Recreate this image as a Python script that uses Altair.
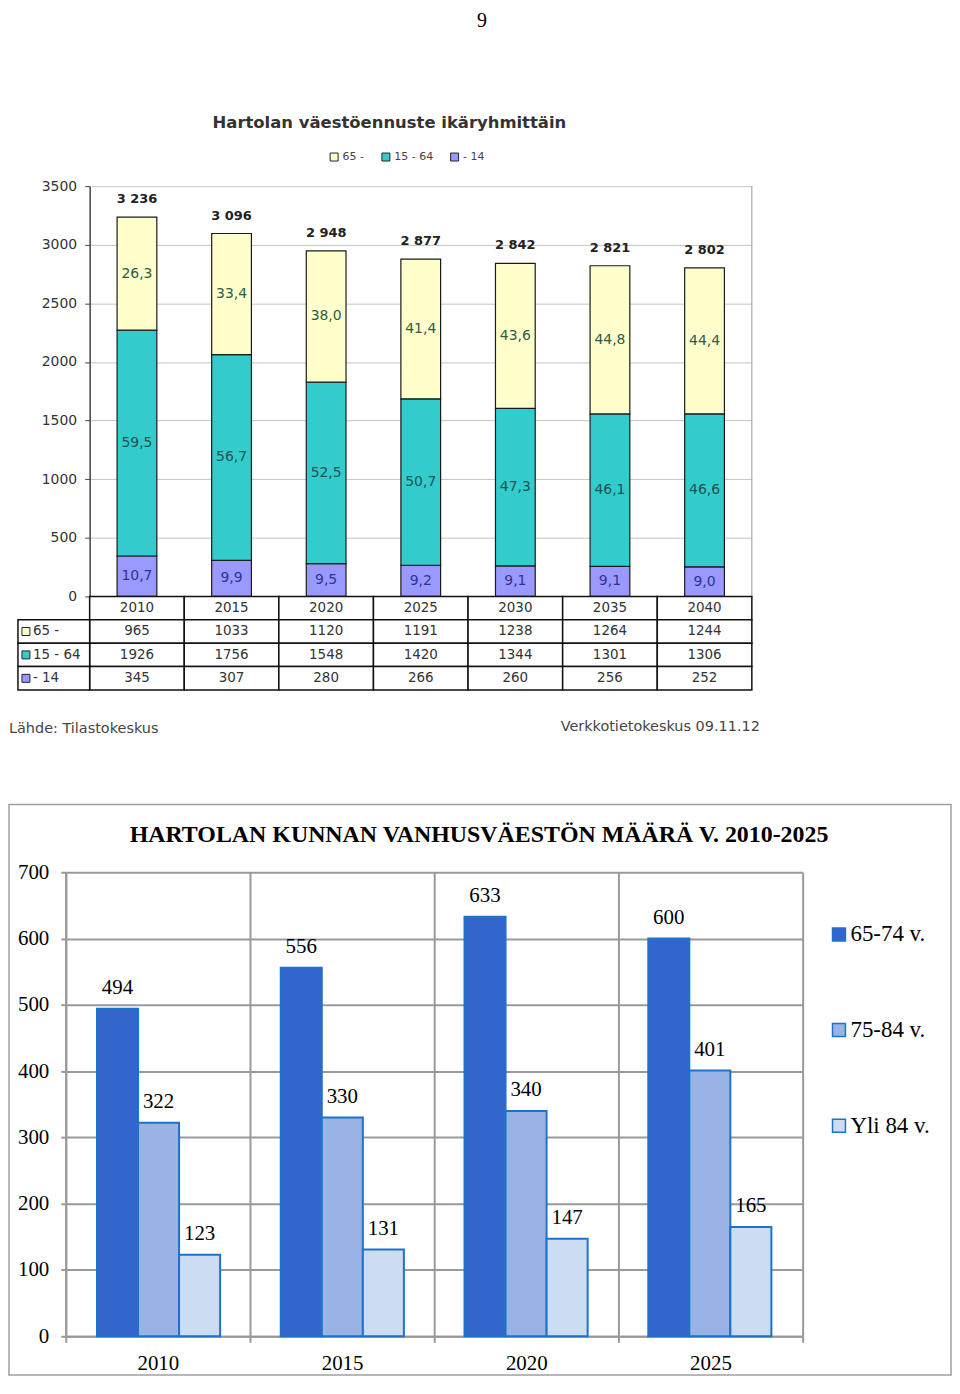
import altair as alt
import pandas as pd

# ---------------- data: upper chart ----------------
years = ["2010", "2015", "2020", "2025", "2030", "2035", "2040"]
groups = ["65 -", "15 - 64", "- 14"]
v65 = [965, 1033, 1120, 1191, 1238, 1264, 1244]
v1564 = [1926, 1756, 1548, 1420, 1344, 1301, 1306]
v014 = [345, 307, 280, 266, 260, 256, 252]
p65 = [26.3, 33.4, 38.0, 41.4, 43.6, 44.8, 44.4]
p1564 = [59.5, 56.7, 52.5, 50.7, 47.3, 46.1, 46.6]
p014 = [10.7, 9.9, 9.5, 9.2, 9.1, 9.1, 9.0]
top_ticks = [0, 500, 1000, 1500, 2000, 2500, 3000, 3500]

# ---------------- data: lower chart ----------------
b_years = ["2010", "2015", "2020", "2025"]
b_series = ["65-74 v.", "75-84 v.", "Yli 84 v."]
b6574 = [494, 556, 633, 600]
b7584 = [322, 330, 340, 401]
b84 = [123, 131, 147, 165]
b_ticks = [0, 100, 200, 300, 400, 500, 600, 700]

# ---------------- texts ----------------
page_no = "9"
top_title = "Hartolan väestöennuste ikäryhmittäin"
src_left = "Lähde: Tilastokeskus"
src_right = "Verkkotietokeskus 09.11.12"
bottom_title = "HARTOLAN KUNNAN VANHUSVÄESTÖN MÄÄRÄ V. 2010-2025"

# ---------------- styles / layout ----------------
SANS = "DejaVu Sans"
SERIF = "Liberation Serif"
W, H = 948, 1372
TX = [82, 747]
TY = [588, 176]
ROWS_Y = [588, 682]
LBL_X = [10, 82]
BX = [58, 798]
BY = [1331, 865]
top_colors = ["#ffffcc", "#33cccc", "#9999ff"]
top_text_colors = ["#2e5a48", "#1f5252", "#33338f"]
b_colors = ["#3366cc", "#99b3e6", "#ccdcf2"]
b_stroke = "#1f72c8"

# ---------------- tables ----------------
recs = []
for i, yr in enumerate(years):
    base = 0
    for g, vals, pcts in [("- 14", v014, p014), ("15 - 64", v1564, p1564), ("65 -", v65, p65)]:
        v = vals[i]
        recs.append(dict(year=yr, group=g, value=v, y0=base, y1=base + v,
                         mid=base + v / 2, pct=f"{pcts[i]:.1f}".replace(".", ",")))
        base += v
df_top = pd.DataFrame(recs)
totals = [a + b + c for a, b, c in zip(v65, v1564, v014)]
df_tot = pd.DataFrame({"year": years, "total": totals,
                       "label": [f"{t:,}".replace(",", " ") for t in totals]})

rows_order = ["hdr"] + groups
tbl = []
for i, yr in enumerate(years):
    tbl.append(dict(year=yr, row="hdr", text=yr))
    for g, vals in [("65 -", v65), ("15 - 64", v1564), ("- 14", v014)]:
        tbl.append(dict(year=yr, row=g, text=str(vals[i])))
df_tbl = pd.DataFrame(tbl)
df_lab = pd.DataFrame({"col": ["lbl"] * 3, "row": groups})

brecs = []
for i, yr in enumerate(b_years):
    for s, vals in zip(b_series, [b6574, b7584, b84]):
        brecs.append(dict(year=yr, series=s, value=vals[i]))
df_b = pd.DataFrame(brecs)

# ---------------- scales ----------------
def top_x(padded=True):
    if padded:
        return alt.Scale(domain=years, range=TX, paddingInner=0.58, paddingOuter=0.29)
    return alt.Scale(domain=years, range=TX, paddingInner=0, paddingOuter=0)

top_y = alt.Scale(domain=[0, 3500], range=TY, nice=False, zero=False)
row_y = alt.Scale(domain=rows_order, range=ROWS_Y, paddingInner=0, paddingOuter=0)
lbl_x = alt.Scale(domain=["lbl"], range=LBL_X, paddingInner=0, paddingOuter=0)
bx_pad = alt.Scale(domain=b_years, range=BX, paddingInner=0.33, paddingOuter=0.17)
bx_flat = alt.Scale(domain=b_years, range=BX, paddingInner=0, paddingOuter=0)
by = alt.Scale(domain=[0, 700], range=BY, nice=False, zero=False)
off = alt.Scale(domain=b_series, paddingInner=0, paddingOuter=0)
off_pt = alt.Scale(type="point", domain=b_series, padding=0.5)


def note(text, x, y, **kw):
    return alt.Chart(pd.DataFrame({"t": [text]})).mark_text(**kw).encode(
        x=alt.value(x), y=alt.value(y), text="t:N")


# ---------------- upper chart layers ----------------
bars_top = alt.Chart(df_top).mark_bar(stroke="#1a1a1a", strokeWidth=1.2).encode(
    x=alt.X("year:N", scale=top_x(), axis=None),
    y=alt.Y("y1:Q", scale=top_y, axis=alt.Axis(
        orient="left", offset=-82, values=top_ticks, format="d", title=None, grid=True,
        gridColor="#c4c4c4", gridWidth=1, domainColor="#444", domainWidth=1.5,
        tickColor="#444", tickSize=5, labelFont=SANS, labelFontSize=14,
        labelColor="#333", labelPadding=8)),
    y2="y0:Q",
    color=alt.Color("group:N", scale=alt.Scale(domain=groups, range=top_colors),
                    legend=alt.Legend(orient="none", legendX=322, legendY=141,
                                      direction="horizontal", title=None,
                                      symbolType="square", symbolSize=64,
                                      symbolStrokeColor="#222", symbolStrokeWidth=1,
                                      labelFont=SANS, labelFontSize=11, labelColor="#444",
                                      labelOffset=3, columnPadding=15, padding=0)),
)

seg_labels = alt.Chart(df_top).mark_text(font=SANS, fontSize=14, baseline="middle").encode(
    x=alt.X("year:N", scale=top_x(), axis=None),
    y=alt.Y("mid:Q", scale=top_y, axis=None),
    text="pct:N",
    color=alt.Color("group:N", scale=alt.Scale(domain=groups, range=top_text_colors), legend=None),
)

tot_labels = alt.Chart(df_tot).mark_text(font=SANS, fontSize=13, fontWeight="bold",
                                         color="#222", baseline="middle", dy=-18).encode(
    x=alt.X("year:N", scale=top_x(), axis=None),
    y=alt.Y("total:Q", scale=top_y, axis=None),
    text="label:N",
)

right_border = alt.Chart(pd.DataFrame({"a": [0], "b": [3500]})).mark_rule(
    color="#999", strokeWidth=1).encode(
    x=alt.value(TX[1]),
    y=alt.Y("a:Q", scale=top_y, axis=None), y2="b:Q")

cells = pd.DataFrame([{"year": y, "row": r} for r in rows_order for y in years])
table_rect = alt.Chart(cells).mark_rect(fill="white", stroke="#111", strokeWidth=1.5).encode(
    x=alt.X("year:N", scale=top_x(False), axis=None),
    y=alt.Y("row:N", scale=row_y, axis=None),
)
table_txt = alt.Chart(df_tbl).mark_text(font=SANS, fontSize=13.5, color="#333", baseline="middle").encode(
    x=alt.X("year:N", scale=top_x(False), axis=None),
    y=alt.Y("row:N", scale=row_y, axis=None),
    text="text:N",
)
lab_rect = alt.Chart(df_lab).mark_rect(fill="white", stroke="#111", strokeWidth=1.5).encode(
    x=alt.X("col:N", scale=lbl_x, axis=None),
    y=alt.Y("row:N", scale=row_y, axis=None),
)
lab_sq = alt.Chart(df_lab).mark_square(size=64, xOffset=-28, stroke="#222", strokeWidth=1,
                                       opacity=1).encode(
    x=alt.X("col:N", scale=lbl_x, axis=None),
    y=alt.Y("row:N", scale=row_y, axis=None),
    color=alt.Color("row:N", scale=alt.Scale(domain=groups, range=top_colors), legend=None),
)
lab_txt = alt.Chart(df_lab).mark_text(font=SANS, fontSize=13.5, color="#333", align="left",
                                      dx=-21, baseline="middle").encode(
    x=alt.X("col:N", scale=lbl_x, axis=None),
    y=alt.Y("row:N", scale=row_y, axis=None),
    text="row:N",
)

# ---------------- lower chart layers ----------------
box = alt.Chart(pd.DataFrame({"a": [0]})).mark_rect(fillOpacity=0, stroke="#a0a0a0",
                                                     strokeWidth=1.5).encode(
    x=alt.value(1), x2=alt.value(W - 1), y=alt.value(797), y2=alt.value(H - 2))

grid_b = alt.Chart(pd.DataFrame({"year": b_years, "v": [0] * 4})).mark_point(opacity=0).encode(
    x=alt.X("year:N", scale=bx_flat, axis=alt.Axis(
        orient="top", tickBand="extent", grid=True, gridColor="#999", gridWidth=2,
        labels=False, ticks=False, domain=False, title=None)),
    y=alt.Y("v:Q", scale=by, axis=None),
)

xaxis_b = alt.Chart(pd.DataFrame({"year": b_years, "v": [0] * 4})).mark_point(opacity=0).encode(
    x=alt.X("year:N", scale=bx_flat, axis=alt.Axis(
        orient="bottom", offset=BY[0] - H, tickBand="extent", grid=False,
        domainColor="#999", domainWidth=2, tickColor="#999", tickWidth=2, tickSize=6,
        labelFont=SERIF, labelFontSize=21, labelColor="black", labelPadding=10,
        labelAngle=0, title=None)),
    y=alt.Y("v:Q", scale=by, axis=None),
)

bars_b = alt.Chart(df_b).mark_bar(stroke=b_stroke, strokeWidth=2).encode(
    x=alt.X("year:N", scale=bx_pad, axis=None),
    xOffset=alt.XOffset("series:N", scale=off),
    y=alt.Y("value:Q", scale=by, axis=alt.Axis(
        orient="left", offset=-BX[0], values=b_ticks, title=None, grid=True,
        gridColor="#999", gridWidth=2, domainColor="#999", domainWidth=2,
        tickColor="#999", tickWidth=2, tickSize=5, labelFont=SERIF, labelFontSize=21,
        labelColor="black", labelPadding=12)),
    color=alt.Color("series:N", scale=alt.Scale(domain=b_series, range=b_colors),
                    legend=alt.Legend(orient="none", legendX=823, legendY=916,
                                      direction="vertical", title=None,
                                      symbolType="square", symbolSize=169,
                                      symbolStrokeColor=b_stroke, symbolStrokeWidth=1.5,
                                      labelFont=SERIF, labelFontSize=23, labelColor="black",
                                      labelOffset=0, rowPadding=72, padding=0)),
)

b_labels = alt.Chart(df_b).mark_text(font=SERIF, fontSize=21, color="black",
                                     baseline="middle", dy=-21).encode(
    x=alt.X("year:N", scale=bx_pad, axis=None),
    xOffset=alt.XOffset("series:N", scale=off_pt),
    y=alt.Y("value:Q", scale=by, axis=None),
    text="value:Q",
)

layers = [
    note(page_no, 476, 16, font=SERIF, fontSize=20, color="black", baseline="alphabetic"),
    note(top_title, 383, 113, font=SANS, fontSize=16.5, fontWeight="bold", color="#333",
         baseline="middle"),
    bars_top, right_border, seg_labels, tot_labels,
    table_rect, table_txt, lab_rect, lab_sq, lab_txt,
    note(src_left, 1, 721, font=SANS, fontSize=14.5, color="#444", align="left", baseline="middle"),
    note(src_right, 555, 719, font=SANS, fontSize=14.5, color="#444", align="left", baseline="middle"),
    box,
    note(bottom_title, 473, 828, font=SERIF, fontSize=24, fontWeight="bold", color="black",
         baseline="middle"),
    grid_b, xaxis_b, bars_b, b_labels,
]

chart = alt.layer(*layers).resolve_scale(
    x="independent", y="independent", color="independent", xOffset="independent"
).properties(
    width=W, height=H, padding=0, autosize=alt.AutoSizeParams(type="none")
).configure_view(strokeWidth=0)

chart.save("out.html", embed_options={"renderer": "svg", "actions": False})
